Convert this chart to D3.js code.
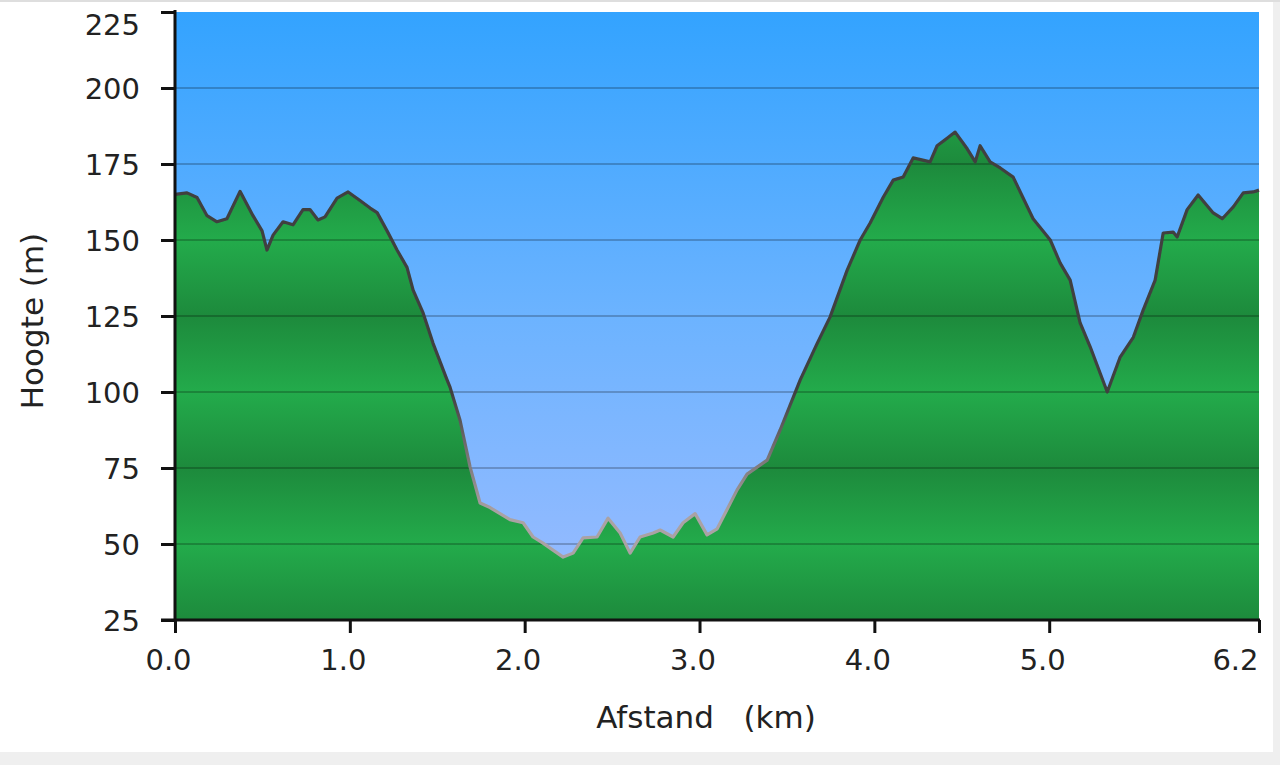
<!DOCTYPE html>
<html>
<head>
<meta charset="utf-8">
<script src="https://cdn.jsdelivr.net/npm/d3@7"></script>
<style>
  html, body { margin: 0; padding: 0; background: #efefef; }
  svg { display: block; }
  text { font-family: "DejaVu Sans", Verdana, sans-serif; fill: #222; }
</style>
</head>
<body>
<svg id="chart" width="1280" height="765"></svg>
<script>
// Distance along the route (km)
const distanceKm = [0.000,0.069,0.126,0.183,0.240,0.297,0.372,0.446,0.498,0.526,0.561,0.618,0.675,0.732,0.772,0.818,0.858,0.927,0.990,1.058,1.116,1.156,1.213,1.270,1.327,1.362,1.419,1.476,1.556,1.573,1.630,1.688,1.745,1.802,1.859,1.916,1.991,2.048,2.105,2.162,2.220,2.277,2.334,2.414,2.477,2.546,2.603,2.660,2.735,2.775,2.849,2.906,2.975,3.043,3.101,3.215,3.272,3.387,3.461,3.576,3.673,3.747,3.844,3.919,3.976,4.050,4.108,4.165,4.222,4.319,4.359,4.416,4.462,4.531,4.577,4.605,4.662,4.720,4.794,4.908,5.006,5.063,5.120,5.177,5.235,5.332,5.406,5.481,5.538,5.606,5.652,5.709,5.732,5.789,5.852,5.938,5.990,6.053,6.110,6.167,6.200];
// Elevation (m)
const elevationM = [165,165.5,164,158,156,157,166,158,153,146.7,151.6,156,155,160,160,156.6,157.6,163.8,165.8,163,160.5,159,153,146.7,141,133.5,126,116,104,101.6,90.8,75.3,63.5,62,60,58,57,52.3,50.3,48,45.7,47,52,52.3,58.5,53.6,47,52.3,53.6,54.6,52.3,57,60,53,55,67.8,73,77.6,87.5,104,116,124.7,140,150,155.6,164,169.7,170.7,177,175.7,181,183.5,185.5,180,175.7,181,175.7,173.7,170.7,157,150,142.4,136.8,122.7,114.8,100,111.5,118,127,136.8,152.3,152.6,151,160,164.8,158.9,157,160.9,165.5,165.8,166.4];

const yTicks = [25, 50, 75, 100, 125, 150, 175, 200, 225];
const xTicks = [0, 1, 2, 3, 4, 5, 6.2];
const xTickLabels = ["0.0", "1.0", "2.0", "3.0", "4.0", "5.0", "6.2"];
const xTitle = "Afstand   (km)";
const yTitle = "Hoogte (m)";

(function () {
const data = distanceKm.map((d, i) => ({ d, e: elevationM[i] }));

const svg = d3.select("#chart");
const W = 1280, H = 765;
const pLeft = 175, pRight = 1259, pTop = 12, pBottom = 620;
const FONT = '"DejaVu Sans", Verdana, sans-serif';

// page panel
svg.append("rect").attr("x", 0).attr("y", 2).attr("width", 1273).attr("height", 750).attr("fill", "#ffffff");
svg.append("rect").attr("x", 0).attr("y", 0).attr("width", W).attr("height", 2).attr("fill", "#dedede");

const x = d3.scaleLinear().domain([0, 6.2]).range([pLeft, pRight]);
const y = d3.scaleLinear().domain([25, 225]).range([pBottom, pTop]);

const defs = svg.append("defs");
const sky = defs.append("linearGradient").attr("id", "sky")
  .attr("gradientUnits", "userSpaceOnUse").attr("x1", 0).attr("x2", 0).attr("y1", pTop).attr("y2", pBottom);
sky.append("stop").attr("offset", "0%").attr("stop-color", "#33a3ff");
sky.append("stop").attr("offset", "50%").attr("stop-color", "#6cb3ff");
sky.append("stop").attr("offset", "100%").attr("stop-color", "#9cbcff");

const ground = defs.append("linearGradient").attr("id", "ground")
  .attr("gradientUnits", "userSpaceOnUse").attr("x1", 0).attr("x2", 0).attr("y1", pTop).attr("y2", pBottom);
yTicks.slice().reverse().forEach(t => {
  const off = (y(t) - pTop) / (pBottom - pTop);
  const dark = ((t - 25) / 25) % 2 === 0;
  ground.append("stop").attr("offset", off).attr("stop-color", dark ? "#1d8a3c" : "#23ab4b");
});

const lineGrad = defs.append("linearGradient").attr("id", "lineGrad")
  .attr("gradientUnits", "userSpaceOnUse").attr("x1", 0).attr("x2", 0).attr("y1", y(100)).attr("y2", y(60));
lineGrad.append("stop").attr("offset", "0%").attr("stop-color", "#404040");
lineGrad.append("stop").attr("offset", "100%").attr("stop-color", "#aaa2a4");

const blur = defs.append("filter").attr("id", "soft").attr("x", "-5%").attr("y", "-5%").attr("width", "110%").attr("height", "110%");
blur.append("feGaussianBlur").attr("stdDeviation", 0.7);

// sky
svg.append("rect").attr("x", pLeft).attr("y", pTop).attr("width", pRight - pLeft).attr("height", pBottom - pTop).attr("fill", "url(#sky)");

// ground area
const area = d3.area().x(d => x(d.d)).y0(pBottom).y1(d => y(d.e));
svg.append("path").datum(data).attr("d", area).attr("fill", "url(#ground)");

// grid lines
svg.append("g").selectAll("line").data(yTicks.filter(t => t > 25 && t < 225)).join("line")
  .attr("x1", pLeft).attr("x2", pRight).attr("y1", d => y(d)).attr("y2", d => y(d))
  .attr("stroke", "rgba(0,0,0,0.22)").attr("stroke-width", 2);

// profile line
const line = d3.line().x(d => x(d.d)).y(d => y(d.e));
svg.append("path").datum(data).attr("d", line).attr("fill", "none")
  .attr("stroke", "url(#lineGrad)").attr("stroke-width", 3.2).attr("stroke-linejoin", "round")
  .attr("filter", "url(#soft)");

// axes
const yAxis = d3.axisLeft(y).tickValues(yTicks).tickSize(14).tickPadding(21).tickFormat(d3.format("d"));
const gy = svg.append("g").attr("transform", `translate(${pLeft},0)`).call(yAxis);
gy.select(".domain").attr("stroke", "#111").attr("stroke-width", 3).attr("d", `M0,${pTop - 2}V${pBottom}`);
gy.selectAll(".tick line").attr("stroke", "#111").attr("stroke-width", 3);
gy.selectAll(".tick text").attr("font-size", 29).attr("font-family", FONT).attr("fill", "#222").attr("dy", "0.36em");
gy.selectAll(".tick").filter(d => d === 225).select("text").attr("dy", "0.78em");

const xAxis = d3.axisBottom(x).tickValues(xTicks).tickSize(12).tickPadding(12).tickFormat((d, i) => xTickLabels[i]);
const gx = svg.append("g").attr("transform", `translate(0,${pBottom})`).call(xAxis);
gx.select(".domain").attr("stroke", "#111").attr("stroke-width", 3).attr("d", `M${pLeft - 14},0H${pRight + 1}`);
gx.selectAll(".tick line").attr("stroke", "#111").attr("stroke-width", 3).attr("y2", 13);
gx.selectAll(".tick text").attr("font-size", 29).attr("font-family", FONT).attr("fill", "#222")
  .attr("y", 50).attr("dy", 0).attr("x", -7);
gx.selectAll(".tick").filter(d => d === 6.2).select("text").attr("text-anchor", "end").attr("x", -1);

// titles
svg.append("text").attr("x", 706).attr("y", 728).attr("text-anchor", "middle")
  .attr("font-size", 31).style("white-space", "pre").attr("xml:space", "preserve").text(xTitle);
svg.append("text").attr("transform", "translate(43,321) rotate(-90)").attr("text-anchor", "middle")
  .attr("font-size", 31).text(yTitle);
})();
</script>
</body>
</html>
